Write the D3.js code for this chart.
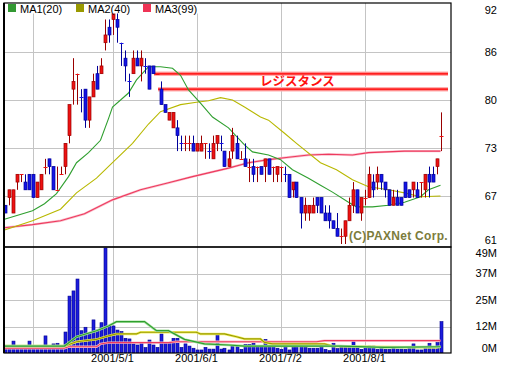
<!DOCTYPE html>
<html>
<head>
<meta charset="utf-8">
<script src="https://cdn.jsdelivr.net/npm/d3@7"></script>
<style>
  body { margin: 0; background: #fff; }
  svg { display: block; }
  text { font-family: "Liberation Sans", Arial, sans-serif; }
</style>
</head>
<body>
<svg id="chart" width="506" height="366"></svg>
<script>
// daily candles [open, high, low, close], one per trading day
const candles = [
  [66,66,65,65],[67,68,66,68],[65,68,65,68],[69,70,68,70],[70,70,69,70],
  [69,70,68,68],[70,70,68,68],[70,70,67,67],[67,69,67,69],[68,70,68,70],
  [71,72,70,71],[72,72,70,71],[71,71,68,68],[68,71,68,68],[70,71,70,70],
  [71,74,70,74],[75,79,74,79],[81,85,79,82],[83,83,79,83],[80,81,78,80],
  [81,81,76,77],[77,80,76,80],[80,83,80,82],[83,84,81,81],[83,85,83,84],
  [87,90,86,88],[89,90,87,88],[90,92,88,91],[90,91,87,89],[87,87,84,87],
  [85,86,82,84],[82,83,80,82],[83,86,83,85],[85,86,84,84],[84,86,82,85],
  [84,85,83,84],[84,84,81,81],[84,84,83,83],[83,83,83,83],[81,82,79,79],
  [79,79,78,78],[77,78,77,78],[76,78,76,78],[76,77,73,75],[74,75,73,74],
  [74,75,73,74],[74,75,73,74],[74,75,73,73],[73,74,73,74],[73,75,73,74],
  [74,74,72,74],[73,74,72,73],[72,75,72,74],[74,75,73,75],[74,75,73,74],
  [73,73,71,71],[71,73,71,72],[73,76,72,75],[74,75,72,72],[72,73,72,72],
  [72,74,71,71],[71,72,69,71],[71,72,69,70],[71,71,69,71],[71,71,70,70],
  [71,72,69,72],[72,72,70,70],[71,71,69,71],[70,71,69,71],[71,71,69,71],
  [70,71,69,70],[70,70,67,67],[68,69,67,69],[69,69,67,67],[67,67,63,65],
  [65,67,64,66],[65,66,64,66],[65,67,65,66],[67,67,65,66],[67,67,65,65],
  [65,66,64,64],[65,66,63,64],[64,64,63,63],[63,65,62,62],[62,63,61,62],
  [62,64,61,64],[64,67,64,66],[66,69,65,68],[68,68,65,65],[65,67,64,67],
  [67,68,66,67],[67,71,67,70],[69,70,67,68],[69,71,68,70],[70,70,68,69],
  [69,69,67,68],[68,68,66,66],[66,68,66,67],[67,68,66,66],[67,67,66,66],
  [69,69,67,67],[68,68,67,67],[68,69,67,69],[68,69,67,67],[69,69,67,69],
  [68,70,67,70],[70,71,67,69],[70,71,69,69],[71,72,70,72],[75,78,73,75]
];

// volume in millions, same days
const volume = [
  2.6,2.6,5.5,2.6,2.6,2.6,5.5,2.6,2.6,2.6,
  7.9,2.6,4.2,4.5,2.6,9.7,26.3,28.7,34.2,10.3,
  11.9,9.1,15.3,10.6,14.0,48.5,12.5,12.5,10.6,9.9,
  6.8,6.5,4.2,3.7,4.8,2.5,6.0,3.7,2.6,8.8,
  4.8,4.8,6.8,6.8,2.6,4.2,3.2,2.2,1.4,1.4,
  2.6,1.8,1.8,8.8,1.8,2.2,1.4,3.2,3.2,1.7,
  4.0,4.0,4.5,3.2,3.2,6.3,3.2,2.9,2.2,1.7,
  3.2,1.4,2.6,2.9,4.2,2.6,2.2,2.2,2.2,2.6,
  1.7,1.1,4.5,2.0,2.6,2.6,2.6,5.2,2.6,1.7,
  2.6,3.2,3.2,1.7,2.2,1.7,1.7,2.2,1.8,1.8,
  1.7,2.2,4.2,1.4,1.4,2.9,4.5,2.9,4.8,14.5
];

// moving averages: [day index, value]
const ma1 = [[0,64.2],[7,65.3],[10,66.2],[13,67.5],[16,69.7],[18,71.5],[21,72.8],[24,74.4],[26,77.2],[27,78.7],[31,80.5],[33,82.2],[36,83.9],[39,83.9],[42,83.7],[44,82.8],[46,80.9],[49,79.2],[52,77.4],[56,76.0],[60,73.8],[62,72.9],[66,72.5],[69,71.9],[72,70.6],[76,69.5],[79,68.6],[82,67.7],[86,66.4],[88,65.8],[92,65.8],[96,66.0],[100,66.4],[104,67.1],[106,68.0],[109,68.6]];
const ma2 = [[0,62.8],[7,64.0],[14,65.5],[18,67.6],[23,69.5],[27,71.5],[32,74.0],[36,76.5],[39,78.1],[44,79.0],[48,79.3],[51,79.5],[54,79.9],[57,79.6],[60,78.7],[64,77.4],[66,77.0],[70,75.3],[73,74.0],[79,71.5],[83,70.6],[87,69.3],[91,68.4],[96,68.0],[100,67.6],[104,67.1],[109,67.2]];
const ma3 = [[0,63.1],[7,63.5],[14,64.0],[20,64.9],[27,66.7],[34,68.0],[41,68.9],[47,69.7],[56,70.8],[61,71.5],[66,71.9],[71,72.2],[76,72.5],[81,72.6],[87,72.5],[91,72.8],[100,73.0],[109,73.0]];

const vma1 = [[0,3.2],[15,3.2],[18,7.5],[23,10.3],[26,12.5],[28,14.5],[35,14.5],[38,10.3],[41,10.3],[45,6.3],[50,4.2],[56,3.7],[60,3.2],[84,3.2],[95,2.6],[109,2.9]];
const vma2 = [[0,3.2],[15,3.2],[18,5.2],[23,6.3],[26,7.9],[28,8.8],[33,8.8],[34,9.6],[48,9.6],[49,8.8],[55,8.8],[58,7.5],[60,6.5],[64,6.5],[65,4.9],[67,4.2],[80,4.2],[82,3.2],[92,2.9],[108,2.6],[109,2.9]];
const vma3 = [[0,2.2],[15,2.2],[16,2.9],[23,2.9],[24,4.2],[26,4.8],[41,4.8],[43,5.2],[78,5.2],[80,5.7],[109,5.7]];

const legendNames = ["MA1(20)", "MA2(40)", "MA3(99)"];

// resistance lines: [price, first day]
const resistance = [[83, 37], [81, 38]];
const resistanceLabel = "レジスタンス";

const dateTickIdx = [7, 27, 48, 69, 90];
const dateTickLabels = ["", "2001/5/1", "2001/6/1", "2001/7/2", "2001/8/1"];
const priceTickLabels = ["61", "67", "73", "80", "86", "92"];
const volTickLabels = ["0M", "12M", "25M", "37M", "49M"];

const svg = d3.select("#chart");
const L = 4, R = 451;
const pTop = 3, pBot = 247, vTop = 247, vBot = 353;

const x = d3.scaleLinear().domain([0, candles.length - 1]).range([4.5, 4.5 + 4 * (candles.length - 1)]);
const yP = d3.scaleLinear().domain([61, 92]).range([244, 4]);
const yV = d3.scaleLinear().domain([0, 49]).range([vBot, vTop]);

const maColors = ["#2f9f2f", "#b8b800", "#ee3a5e"];
const legendColors = ["#339933", "#999900", "#ee3355"];

const defs = svg.append("defs");
defs.append("clipPath").attr("id", "clipP").append("rect")
  .attr("x", L).attr("y", pTop).attr("width", R - L).attr("height", pBot - pTop);
defs.append("clipPath").attr("id", "clipV").append("rect")
  .attr("x", L).attr("y", vTop).attr("width", R - L).attr("height", vBot - vTop);

const gridColor = "#c4c4c4";
const grid = svg.append("g").attr("stroke", gridColor).attr("stroke-width", 1);

const pStep = (92 - 61) / (priceTickLabels.length - 1);
priceTickLabels.forEach((t, k) => {
  if (k > 0 && k < priceTickLabels.length - 1) {
    const yy = Math.round(yP(61 + k * pStep)) + 0.5;
    grid.append("line").attr("x1", L).attr("x2", R).attr("y1", yy).attr("y2", yy);
  }
});
const vStep = 49 / (volTickLabels.length - 1);
volTickLabels.forEach((t, k) => {
  if (k > 0 && k < volTickLabels.length - 1) {
    const yy = Math.round(yV(k * vStep)) + 0.5;
    grid.append("line").attr("x1", L).attr("x2", R).attr("y1", yy).attr("y2", yy);
  }
});
dateTickIdx.forEach((d) => {
  const xx = Math.round(x(d)) + 0.5;
  grid.append("line").attr("x1", xx).attr("x2", xx).attr("y1", pTop).attr("y2", vBot);
});

// ---- price panel
const gp = svg.append("g").attr("clip-path", "url(#clipP)");

const lineP = d3.line().x((d) => x(d[0])).y((d) => yP(d[1]));

// resistance lines
resistance.forEach(([v, d]) => {
  const yy = yP(v);
  gp.append("line").attr("x1", x(d) + 1.5).attr("x2", R - 3).attr("y1", yy).attr("y2", yy)
    .attr("stroke", "#ffb0b0").attr("stroke-width", 4.5);
  gp.append("line").attr("x1", x(d) + 1.5).attr("x2", R - 3).attr("y1", yy).attr("y2", yy)
    .attr("stroke", "#ff2020").attr("stroke-width", 2);
});
gp.append("text")
  .attr("x", 260).attr("y", (yP(resistance[0][0]) + yP(resistance[1][0])) / 2)
  .attr("dy", "0.36em")
  .attr("fill", "#ff1010").attr("font-weight", "bold").attr("font-size", 12.5)
  .style("font-family", '"Noto Sans CJK JP", sans-serif')
  .text(resistanceLabel);

// MA lines
gp.append("path").datum(ma3).attr("d", lineP).attr("fill", "none")
  .attr("stroke", "#f9c0cc").attr("stroke-width", 2.4);
gp.append("path").datum(ma3).attr("d", lineP).attr("fill", "none")
  .attr("stroke", maColors[2]).attr("stroke-width", 1.1);
gp.append("path").datum(ma2).attr("d", lineP).attr("fill", "none")
  .attr("stroke", maColors[1]).attr("stroke-width", 1.1);
gp.append("path").datum(ma1).attr("d", lineP).attr("fill", "none")
  .attr("stroke", maColors[0]).attr("stroke-width", 1.1);

// candles
const upBright = "#ee1111", upDark = "#990000", dnBright = "#1414e6", dnDark = "#000099";
candles.forEach((c, i) => {
  const [o, h, l, cl] = c;
  const prev = i > 0 ? candles[i - 1][3] : cl;
  const up = cl > o || (cl === o && cl >= prev);
  const cx = Math.round(x(i)) + 0.5;
  const g = gp.append("g");
  g.append("line").attr("x1", cx).attr("x2", cx).attr("y1", yP(h)).attr("y2", yP(l))
    .attr("stroke", up ? upDark : dnDark).attr("stroke-width", 1);
  if (o === cl) {
    g.append("line").attr("x1", cx - 2).attr("x2", cx + 2).attr("y1", Math.round(yP(cl)) + 0.5)
      .attr("y2", Math.round(yP(cl)) + 0.5)
      .attr("stroke", up ? upBright : dnBright).attr("stroke-width", 1);
  } else {
    const y1 = yP(Math.max(o, cl)), y2 = yP(Math.min(o, cl));
    g.append("rect").attr("x", cx - 1.5).attr("y", y1).attr("width", 3).attr("height", y2 - y1)
      .attr("fill", up ? upBright : dnBright)
      .attr("stroke", up ? upDark : dnDark).attr("stroke-width", 0.7);
  }
});

// copyright
svg.append("text").attr("x", 349).attr("y", 240)
  .attr("fill", "#7c7c3c").attr("font-weight", "bold").attr("font-size", 12)
  .attr("letter-spacing", 0.3)
  .text("(C)PAXNet Corp.");

// legend
const lg = svg.append("g");
lg.append("rect").attr("x", L + 1).attr("y", pTop + 0.5).attr("width", 196).attr("height", 10).attr("fill", "#fff");
legendNames.forEach((n, k) => {
  const lx = [8, 76, 143][k];
  lg.append("rect").attr("x", lx).attr("y", 4).attr("width", 8).attr("height", 8).attr("fill", legendColors[k]);
  lg.append("text").attr("x", lx + 12).attr("y", 12.5).attr("font-size", 11).attr("fill", "#000").text(n);
});

// ---- volume panel
const gv = svg.append("g").attr("clip-path", "url(#clipV)");
volume.forEach((v, i) => {
  const cx = Math.round(x(i)) + 0.5;
  gv.append("rect").attr("x", cx - 1.5).attr("y", yV(v)).attr("width", 3).attr("height", vBot - yV(v))
    .attr("fill", "#1c1cdc").attr("stroke", "#000090").attr("stroke-width", 0.6);
});
const lineV = d3.line().x((d) => x(d[0])).y((d) => yV(d[1]));
gv.append("path").datum(vma3).attr("d", lineV).attr("fill", "none")
  .attr("stroke", "#f9c0cc").attr("stroke-width", 2.4);
gv.append("path").datum(vma3).attr("d", lineV).attr("fill", "none")
  .attr("stroke", maColors[2]).attr("stroke-width", 1.1);
gv.append("path").datum(vma2).attr("d", lineV).attr("fill", "none")
  .attr("stroke", "#f0f060").attr("stroke-width", 2.5);
gv.append("path").datum(vma2).attr("d", lineV).attr("fill", "none")
  .attr("stroke", "#9a9a00").attr("stroke-width", 1.2);
gv.append("path").datum(vma1).attr("d", lineV).attr("fill", "none")
  .attr("stroke", "#a8e0a0").attr("stroke-width", 2.5);
gv.append("path").datum(vma1).attr("d", lineV).attr("fill", "none")
  .attr("stroke", maColors[0]).attr("stroke-width", 1.2);

// frames
svg.append("rect").attr("x", L).attr("y", pTop).attr("width", R - L).attr("height", pBot - pTop)
  .attr("fill", "none").attr("stroke", "#000").attr("stroke-width", 1.2);
svg.append("rect").attr("x", L).attr("y", vTop).attr("width", R - L).attr("height", vBot - vTop)
  .attr("fill", "none").attr("stroke", "#000").attr("stroke-width", 1.2);
svg.append("line").attr("x1", L).attr("x2", L).attr("y1", pTop).attr("y2", vBot)
  .attr("stroke", "#000").attr("stroke-width", 2);

// right axis labels
const ax = svg.append("g").attr("font-size", 11).attr("text-anchor", "end").attr("fill", "#000");
priceTickLabels.forEach((t, k) => {
  const yy = Math.max(10, Math.min(240, yP(61 + k * pStep)));
  ax.append("text").attr("x", 497).attr("y", yy).attr("dy", "0.36em").text(t);
});
volTickLabels.forEach((t, k) => {
  const yy = Math.max(vTop + 6, Math.min(vBot - 5, yV(k * vStep)));
  ax.append("text").attr("x", 497).attr("y", yy).attr("dy", "0.36em").text(t);
});

// date labels
dateTickIdx.forEach((d, k) => {
  if (!dateTickLabels[k]) return;
  svg.append("text").attr("x", x(d)).attr("y", 362).attr("font-size", 11)
    .attr("text-anchor", "middle").text(dateTickLabels[k]);
});
</script>
</body>
</html>
